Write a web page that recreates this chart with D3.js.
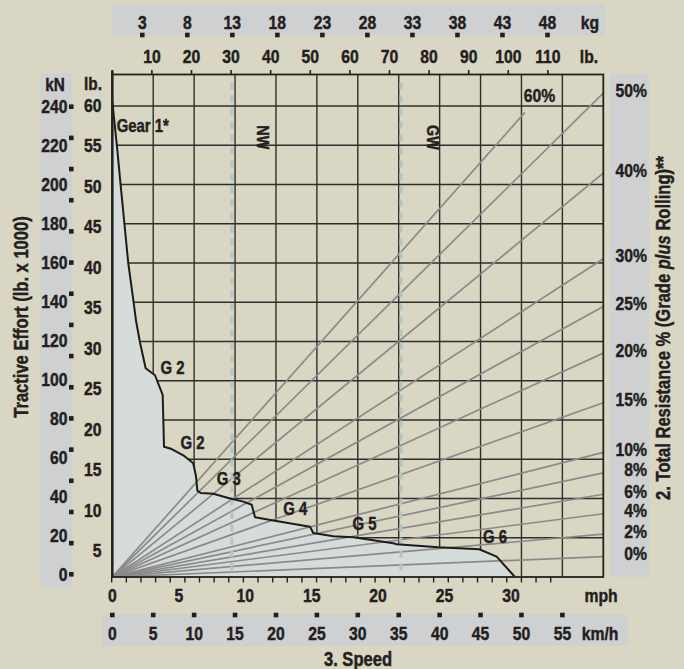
<!DOCTYPE html>
<html><head><meta charset="utf-8">
<script src="https://cdn.jsdelivr.net/npm/d3@7"></script>
<style>
html,body{margin:0;padding:0;background:#d9d6c3;}
svg{display:block;}
text{font-family:"Liberation Sans","Arimo",Arial,sans-serif;font-weight:bold;fill:#231f20;stroke:#231f20;stroke-width:0.45px;}
</style></head><body>
<svg id="chart" width="684" height="669"></svg>
<script>
// ---------- DATA ----------
// Tractive effort curve: speed (mph) vs effort (lb x 1000)
const curveMph = [0, 0.33, 0.63, 1.20, 1.58, 1.78, 2.08, 2.51, 3.21, 3.79, 3.84, 3.89, 4.47, 5.34, 6.09, 6.30, 6.40, 6.65, 7.60, 8.86, 9.86, 10.49, 10.74, 12.11, 14.88, 15.12, 16.63, 18.13, 21.14, 21.40, 24.53, 27.61, 28.92, 30.30];
const curveEffort = [60.6, 55.2, 49.9, 40.0, 35.3, 32.7, 29.9, 26.6, 25.7, 23.2, 20.0, 16.6, 16.3, 15.5, 14.5, 12.8, 11.0, 10.7, 10.6, 10.0, 9.6, 9.2, 7.6, 7.2, 6.4, 5.6, 5.2, 5.06, 4.3, 4.17, 3.78, 3.53, 2.59, 0.0];

// Total resistance lines (effort per weight, %)
const gradeLabels = ["0%", "2%", "4%", "6%", "8%", "10%", "15%", "20%", "25%", "30%", "40%", "50%", "60%"];
const gradeEffective = [2.1, 4.4, 6.5, 8.5, 10.7, 12.8, 17.9, 23.0, 27.8, 32.7, 41.5, 49.7, 56.8];
const gradeEndWeight = [124, 124, 124, 124, 124, 124, 124, 124, 124, 124, 124, 124, 104.2];

// Gear labels (mph, lb x 1000)
const gearText = ["Gear 1*", "G 2", "G 2", "G 3", "G 4", "G 5", "G 6"];
const gearMph = [0.33, 4.53, 6.03, 8.76, 13.77, 18.98, 28.8];
const gearEffort = [57.5, 26.6, 17.1, 12.5, 8.7, 6.75, 5.1];

// Weight markers on top weight axis (lb x 1000)
const weightMarkNames = ["NW", "GW"];
const weightMarkLb = [30.2, 72.9];

// Tick labels
const kgTicks = [3, 8, 13, 18, 23, 28, 33, 38, 43, 48];
const lbTopTicks = [10, 20, 30, 40, 50, 60, 70, 80, 90, 100, 110];
const lbTopMarks = [0, 10, 20, 30, 40, 50, 60, 70, 80, 90, 100, 110];
const kNTicks = [0, 20, 40, 60, 80, 100, 120, 140, 160, 180, 200, 220, 240];
const kNMarks = [0, 16, 32, 48, 64, 80, 96, 112, 128, 144, 160, 176, 192, 208, 224, 240];
const lbLeftTicks = [5, 10, 15, 20, 25, 30, 35, 40, 45, 50, 55, 60];
const mphTicks = [0, 5, 10, 15, 20, 25, 30];
const mphMinor = [0,1,2,3,4,5,6,7,8,9,10,11,12,13,14,15,16,17,18,19,20,21,22,23,24,25,26,27,28,29,30];
const kmhTicks = [0, 5, 10, 15, 20, 25, 30, 35, 40, 45, 50, 55];
const kmhGrid = [5, 10, 15, 20, 25, 30, 35, 40, 45, 50, 55];
const effortGrid = [5, 10, 15, 20, 25, 30, 35, 40, 45, 50, 55, 60];

// ---------- LAYOUT ----------
const L = 112.3, R = 603.3, T = 74.5, B = 577;
const SX = 0.85; // condensed look
const svg = d3.select("#chart");
const C = {bg:"#d9d6c3", band:"#cfd0d2", fill:"#d6dcd9", grid:"#2e2e2e", grade:"#8a8a8a", dash:"#b3c5c1", ink:"#231f20"};

function txt(parent, x, y, s, opt) {
  opt = opt || {};
  const rot = opt.rotate ? ` rotate(${opt.rotate})` : "";
  const t = parent.append("text")
    .attr("transform", `translate(${x},${y})${rot} scale(${SX},1)`)
    .attr("dy", "0.35em")
    .attr("text-anchor", opt.anchor || "middle")
    .attr("font-size", opt.size || 18.5);
  if (s !== null) t.text(s);
  return t;
}

// scales
const yEff = d3.scaleLinear().domain([0, 64]).range([B, B - 64 * 7.85]);
const xKmh = d3.scaleLinear().domain([0, 60]).range([L, R]);
const xMph = d3.scaleLinear().domain([0, 30]).range([L, 511]);
const xMphMinor = d3.scaleLinear().domain([0, 30]).range([111.7, 550.7]);
const xLb = d3.scaleLinear().domain([0, 124]).range([L, R]);
const xKg = d3.scaleLinear().domain([3, 48]).range([142.3, 547.5]);
const yLbLabel = d3.scaleLinear().domain([5, 60]).range([549, 104]);
const yKN = d3.scaleLinear().domain([0, 240]).range([574.3, 106.7]);

svg.append("rect").attr("width", 684).attr("height", 669).attr("fill", C.bg);

// bands
svg.append("rect").attr("x", L).attr("y", 5).attr("width", 605 - L).attr("height", 30.7).attr("fill", C.band);
svg.append("rect").attr("x", 40).attr("y", 73.3).attr("width", 32).attr("height", 515).attr("fill", C.band);
svg.append("rect").attr("x", 610).attr("y", 74).attr("width", 39).attr("height", 503).attr("fill", C.band);
svg.append("rect").attr("x", 101.7).attr("y", 614.3).attr("width", 628 - 101.7).attr("height", 31.4).attr("fill", C.band);

// grid
const g = svg.append("g");
g.selectAll("line.v").data(kmhGrid).join("line")
  .attr("x1", d => xKmh(d)).attr("x2", d => xKmh(d)).attr("y1", T).attr("y2", B)
  .attr("stroke", C.grid).attr("stroke-width", 1.4);
g.selectAll("line.h").data(effortGrid).join("line")
  .attr("x1", L).attr("x2", R).attr("y1", d => yEff(d)).attr("y2", d => yEff(d))
  .attr("stroke", C.grid).attr("stroke-width", 1.4);

// fill under curve
const pts = curveMph.map((m, i) => [m, curveEffort[i]]);
const area = d3.area().x(d => xMph(d[0])).y0(yEff(0)).y1(d => yEff(d[1]));
svg.append("path").datum(pts).attr("d", area).attr("fill", C.fill);

// grade lines
svg.append("clipPath").attr("id", "pc").append("rect")
  .attr("x", L).attr("y", T).attr("width", R - L).attr("height", B - T);
const gl = svg.append("g").attr("clip-path", "url(#pc)");
gradeEffective.forEach((p, i) => {
  const wEnd = gradeEndWeight[i];
  gl.append("line")
    .attr("x1", xLb(0)).attr("y1", yEff(0))
    .attr("x2", xLb(wEnd)).attr("y2", yEff(p / 100 * wEnd))
    .attr("stroke", C.grade).attr("stroke-width", 1.7);
});

// weight marker dashed lines
weightMarkLb.forEach((w, i) => {
  svg.append("line").attr("x1", xLb(w)).attr("x2", xLb(w)).attr("y1", T + 8).attr("y2", B)
    .attr("stroke", C.dash).attr("stroke-width", 3).attr("stroke-dasharray", "7,6");
  txt(svg, xLb(w) + 31.5, yEff(56), weightMarkNames[i], {rotate: 90, size: 17});
});

// curve
const line = d3.line().x(d => xMph(d[0])).y(d => yEff(d[1]));
svg.append("path").datum(pts).attr("d", line).attr("fill", "none")
  .attr("stroke", "#1c1c1c").attr("stroke-width", 2).attr("stroke-linejoin", "round");

// borders
svg.append("rect").attr("x", L).attr("y", T).attr("width", R - L).attr("height", B - T)
  .attr("fill", "none").attr("stroke", "#222").attr("stroke-width", 1.8);
svg.append("line").attr("x1", L).attr("x2", L).attr("y1", T - 4).attr("y2", B + 1)
  .attr("stroke", "#222").attr("stroke-width", 2.4);

// top lb ticks
svg.selectAll("line.tt").data(lbTopMarks).join("line")
  .attr("x1", d => xLb(d)).attr("x2", d => xLb(d)).attr("y1", 70).attr("y2", T)
  .attr("stroke", "#222").attr("stroke-width", 1.6);
// bottom minor ticks
svg.selectAll("line.bt").data(mphMinor).join("line")
  .attr("x1", d => xMphMinor(d)).attr("x2", d => xMphMinor(d)).attr("y1", B).attr("y2", B + 5.5)
  .attr("stroke", "#222").attr("stroke-width", 1.4);

// gear labels
gearText.forEach((t, i) => {
  txt(svg, xMph(gearMph[i]), yEff(gearEffort[i]), t, {anchor: i === 0 ? "start" : "middle", size: 17.5});
});

// percent labels
gradeLabels.forEach((t, i) => {
  const wEnd = gradeEndWeight[i];
  const yEnd = yEff(gradeEffective[i] / 100 * wEnd);
  if (wEnd < 124) {
    txt(svg, xLb(wEnd) + 14.7, yEnd - 16.5, t);
  } else {
    txt(svg, 647, yEnd - 3, t, {anchor: "end"});
  }
});

// top kg axis
kgTicks.forEach(d => txt(svg, xKg(d), 22.7, d));
svg.selectAll("rect.kgm").data(kgTicks).join("rect")
  .attr("x", d => xKg(d) - 2.3).attr("y", 32.7).attr("width", 4.6).attr("height", 4.6).attr("fill", C.ink);
txt(svg, 590, 22.7, "kg");
// top lb axis
lbTopTicks.forEach(d => txt(svg, xLb(d), 57, d));
txt(svg, 589, 57, "lb.");

// left kN axis
kNTicks.forEach(d => txt(svg, 67.5, yKN(d), d, {anchor: "end"}));
svg.selectAll("rect.knm").data(kNMarks).join("rect")
  .attr("x", 69).attr("y", d => yKN(d) - 2.3).attr("width", 4.6).attr("height", 4.6).attr("fill", C.ink);
txt(svg, 55, 85, "kN", {size: 18});
// left lb axis
lbLeftTicks.forEach(d => txt(svg, 101.5, yLbLabel(d) + 1.5, d, {anchor: "end"}));
txt(svg, 93, 84, "lb.", {size: 18});

// bottom mph axis
mphTicks.forEach(d => txt(svg, xMph(d), 595.7, d));
txt(svg, 601, 595.7, "mph");
// km/h axis
svg.selectAll("rect.kmh").data(kmhTicks).join("rect")
  .attr("x", d => xKmh(d) - 2.3).attr("y", 612.7).attr("width", 4.6).attr("height", 4.6).attr("fill", C.ink);
kmhTicks.forEach(d => txt(svg, xKmh(d), 633.3, d));
txt(svg, 600, 633.3, "km/h");

// titles
txt(svg, 358, 659, "3. Speed", {size: 19.5});
txt(svg, 21, 317, "Tractive Effort (lb. x 1000)", {rotate: -90, size: 19.5});
const rt = txt(svg, 663, 328, null, {rotate: -90, size: 19.5});
rt.append("tspan").text("2. Total Resistance % (Grade ");
rt.append("tspan").attr("font-style", "italic").text("plus");
rt.append("tspan").text(" Rolling)**");
</script>
</body></html>
